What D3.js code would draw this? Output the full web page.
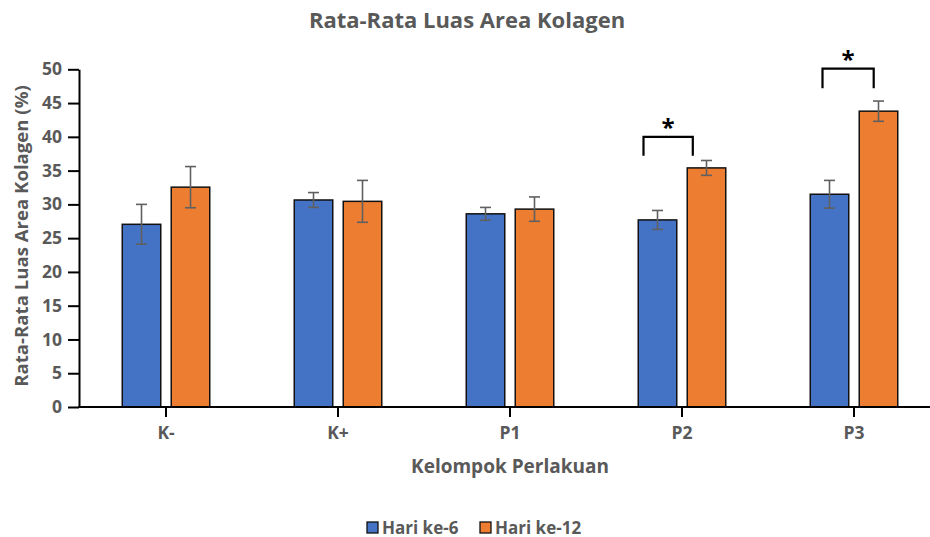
<!DOCTYPE html>
<html>
<head>
<meta charset="utf-8">
<script src="https://cdn.jsdelivr.net/npm/d3@7"></script>
<style>
  body { margin: 0; background: #fff; }
  text { font-family: "Open Sans", sans-serif; font-weight: bold; }
</style>
</head>
<body>
<div id="chart"></div>
<script>
// data
var categories = ["K-", "K+", "P1", "P2", "P3"];
var seriesNames = ["Hari ke-6", "Hari ke-12"];
var hari6 = [27.05, 30.65, 28.6, 27.7, 31.5];
var hari6Err = [2.95, 1.1, 0.95, 1.4, 2.05];
var hari12 = [32.55, 30.45, 29.3, 35.4, 43.8];
var hari12Err = [3.05, 3.1, 1.8, 1.1, 1.5];
var yTicks = [0, 5, 10, 15, 20, 25, 30, 35, 40, 45, 50];
// significance markers: category, bracket top (value), leg bottom (value)
var sigCats = ["P2", "P3"];
var sigTop = [40.0, 50.1];
var sigLeg = [37.2, 47.2];

var width = 930, height = 537;
var colors = ["#4472C4", "#ED7D31"];
var grey = "#595959";

var svg = d3.select("#chart").append("svg")
    .attr("width", width)
    .attr("height", height);

var x = d3.scaleBand().domain(categories).range([80, 940]);
var xs = d3.scaleBand().domain(seriesNames).range([-43.75, 43.75]).paddingInner(0.214);
var y = d3.scaleLinear().domain([0, 50]).range([407, 69.3]);

var rows = categories.map(function (c, i) {
    return {
        cat: c,
        vals: [
            { s: seriesNames[0], v: hari6[i], e: hari6Err[i] },
            { s: seriesNames[1], v: hari12[i], e: hari12Err[i] }
        ]
    };
});

// title
svg.append("text")
    .attr("x", 467)
    .attr("y", 28)
    .attr("text-anchor", "middle")
    .attr("font-size", 22)
    .attr("fill", grey)
    .text("Rata-Rata Luas Area Kolagen");

// bars
var groups = svg.selectAll(".grp")
    .data(rows)
    .enter().append("g")
    .attr("transform", function (d) { return "translate(" + (x(d.cat) + x.bandwidth() / 2) + ",0)"; });

groups.selectAll("rect")
    .data(function (d) { return d.vals; })
    .enter().append("rect")
    .attr("x", function (d) { return xs(d.s); })
    .attr("width", xs.bandwidth())
    .attr("y", function (d) { return y(d.v); })
    .attr("height", function (d) { return y(0) - y(d.v); })
    .attr("fill", function (d, i) { return colors[i]; })
    .attr("stroke", "#111")
    .attr("stroke-width", 1.5);

// error bars
var eb = groups.selectAll(".err")
    .data(function (d) { return d.vals; })
    .enter().append("g")
    .attr("stroke", "#606060")
    .attr("stroke-width", 1.6);

eb.append("line")
    .attr("x1", function (d) { return xs(d.s) + xs.bandwidth() / 2; })
    .attr("x2", function (d) { return xs(d.s) + xs.bandwidth() / 2; })
    .attr("y1", function (d) { return y(d.v + d.e); })
    .attr("y2", function (d) { return y(d.v - d.e); });

[1, -1].forEach(function (sgn) {
    eb.append("line")
        .attr("x1", function (d) { return xs(d.s) + xs.bandwidth() / 2 - 5.5; })
        .attr("x2", function (d) { return xs(d.s) + xs.bandwidth() / 2 + 5.5; })
        .attr("y1", function (d) { return y(d.v + sgn * d.e); })
        .attr("y2", function (d) { return y(d.v + sgn * d.e); });
});

// y axis
var yAxis = svg.append("g")
    .attr("transform", "translate(79,0)")
    .call(d3.axisLeft(y).tickValues(yTicks).tickSize(11).tickSizeOuter(0).tickPadding(6));
yAxis.select(".domain").attr("stroke", "#000").attr("stroke-width", 2);
yAxis.selectAll(".tick line").attr("stroke", "#000").attr("stroke-width", 2);
yAxis.selectAll(".tick text")
    .attr("fill", grey)
    .attr("font-size", 17.5)
    .attr("font-family", "Open Sans")
    .attr("font-weight", "bold");

// x axis
var xAxis = svg.append("g")
    .attr("transform", "translate(0,407)")
    .call(d3.axisBottom(x).tickSize(10).tickSizeOuter(0));
xAxis.select(".domain").attr("stroke", "#000").attr("stroke-width", 2)
    .attr("d", "M78,0H930");
xAxis.selectAll(".tick line").attr("stroke", "#000").attr("stroke-width", 2);
xAxis.selectAll(".tick text")
    .attr("y", 20)
    .attr("fill", grey)
    .attr("font-size", 17.5)
    .attr("font-family", "Open Sans")
    .attr("font-weight", "bold");

// axis titles
svg.append("text")
    .attr("x", 510)
    .attr("y", 473)
    .attr("text-anchor", "middle")
    .attr("font-size", 19)
    .attr("fill", grey)
    .text("Kelompok Perlakuan");

svg.append("text")
    .attr("transform", "translate(28,236) rotate(-90)")
    .attr("text-anchor", "middle")
    .attr("font-size", 18.6)
    .attr("fill", grey)
    .text("Rata-Rata Luas Area Kolagen (%)");

// significance brackets
var sigLeft = [-38.5, -31.5], sigRight = [10.8, 19.7];
sigCats.forEach(function (c, i) {
    var cx = x(c) + x.bandwidth() / 2;
    var x1 = cx + sigLeft[i], x2 = cx + sigRight[i];
    svg.append("path")
        .attr("d", "M" + x1 + "," + y(sigLeg[i]) + "V" + y(sigTop[i]) + "H" + x2 + "V" + y(sigLeg[i]))
        .attr("fill", "none")
        .attr("stroke", "#000")
        .attr("stroke-width", 2.2);
    svg.append("text")
        .attr("x", (x1 + x2) / 2)
        .attr("y", y(sigTop[i]) - 1)
        .attr("text-anchor", "middle")
        .attr("font-size", 24)
        .attr("fill", "#000")
        .text("*");
});

// legend
var legend = svg.append("g").attr("transform", "translate(367,522)");
var legX = [0, 113];
seriesNames.forEach(function (s, i) {
    var g = legend.append("g").attr("transform", "translate(" + legX[i] + ",0)");
    g.append("rect")
        .attr("width", 11)
        .attr("height", 11)
        .attr("fill", colors[i])
        .attr("stroke", "#111")
        .attr("stroke-width", 1.3);
    g.append("text")
        .attr("x", 15)
        .attr("y", 11.5)
        .attr("font-size", 17)
        .attr("fill", grey)
        .text(s);
});
</script>
</body>
</html>
